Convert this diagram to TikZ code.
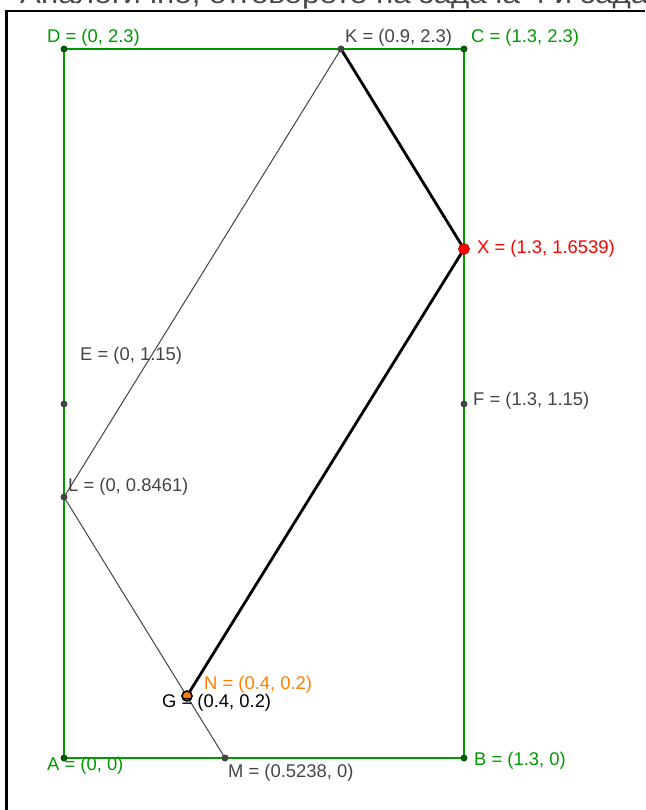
\documentclass[tikz,border=0pt]{standalone}
\usepackage{fontspec}
\setmainfont{Liberation Sans}
\begin{document}
\begin{tikzpicture}[x=1pt,y=-1pt]
\definecolor{ggreen}{RGB}{0,153,0}
\definecolor{dgreen}{RGB}{0,90,0}
\definecolor{lgray}{RGB}{68,68,68}
\definecolor{hgray}{RGB}{70,70,70}
\definecolor{gorange}{RGB}{255,127,0}
\tikzset{
  greenline/.style={draw=ggreen, line width=2.8pt},
  thickline/.style={draw=black, line width=2.8pt},
  thinline/.style={draw=lgray, line width=1pt},
  ptdot/.style={circle, fill=lgray, inner sep=0, minimum size=7pt},
  gdot/.style={circle, fill=dgreen, inner sep=0, minimum size=7pt},
  xdot/.style={circle, fill=red, draw=red!70!black, line width=0.6pt, inner sep=0, minimum size=11pt},
  ndot/.style={circle, fill=gorange, draw=black, line width=1.6pt, inner sep=0, minimum size=10pt},
  lab/.style={anchor=west, inner sep=0, font=\fontsize{18.4}{20}\selectfont},
}
\useasboundingbox (0,0) rectangle (645,810);
\fill[white] (0,0) rectangle (645,810);
% heading (cut off at top, as in the reference)
\begin{scope}
\clip (0,0) rectangle (645,810);
\node[anchor=base west, inner sep=0, text=hgray, font=\fontsize{27}{29}\selectfont, xscale=1.16, transform shape] (title) at (20,3.5) {Аналогично, отговорете на задача 4 и задача};
\end{scope}
% frame
\coordinate (f1) at (6.5,810);
\coordinate (f2) at (6.5,11);
\coordinate (f3) at (645,11);
\draw[black, line width=2.5pt] (f1) -- (f2) -- (f3);
% points
\coordinate (A) at (64,758);
\coordinate (B) at (464,758);
\coordinate (C) at (464,49);
\coordinate (D) at (64,49);
\coordinate (K) at (341,49);
\coordinate (X) at (464,249);
\coordinate (E) at (64,404);
\coordinate (F) at (464,404);
\coordinate (L) at (64,497);
\coordinate (N) at (187,696);
\coordinate (M) at (225,758);
% rectangle
\draw[greenline] (A) -- (B) -- (C) -- (D) -- cycle;
% segments
\draw[thinline] (K) -- (L) -- (M);
\draw[thickline] (K) -- (X) -- (N);
% dots
\node[gdot] (pA) at (A) {};
\node[gdot] (pB) at (B) {};
\node[gdot] (pC) at (C) {};
\node[gdot] (pD) at (D) {};
\node[ptdot] (pK) at (K) {};
\node[ptdot] (pE) at (E) {};
\node[ptdot] (pF) at (F) {};
\node[ptdot] (pL) at (L) {};
\node[ptdot] (pM) at (M) {};
\node[xdot] (pX) at (X) {};
\node[ndot] (pN) at (N) {};
% labels
\node[lab, text=ggreen] (lD) at (47,38) {D = (0, 2.3)};
\node[lab, text=lgray] (lK) at (345,38) {K = (0.9, 2.3)};
\node[lab, text=ggreen] (lC) at (471,38) {C = (1.3, 2.3)};
\node[lab, text=red] (lX) at (477,249) {X = (1.3, 1.6539)};
\node[lab, text=lgray] (lE) at (80,356) {E = (0, 1.15)};
\node[lab, text=lgray] (lF) at (473,401) {F = (1.3, 1.15)};
\node[lab, text=lgray] (lL) at (68,487) {L = (0, 0.8461)};
\node[lab, text=gorange] (lN) at (204,685) {N = (0.4, 0.2)};
\node[lab, text=black] (lG) at (162,703) {G = (0.4, 0.2)};
\node[lab, text=ggreen] (lA) at (47,766) {A = (0, 0)};
\node[lab, text=lgray] (lM) at (228,773) {M = (0.5238, 0)};
\node[lab, text=ggreen] (lB) at (474,761) {B = (1.3, 0)};
\end{tikzpicture}
\end{document}
